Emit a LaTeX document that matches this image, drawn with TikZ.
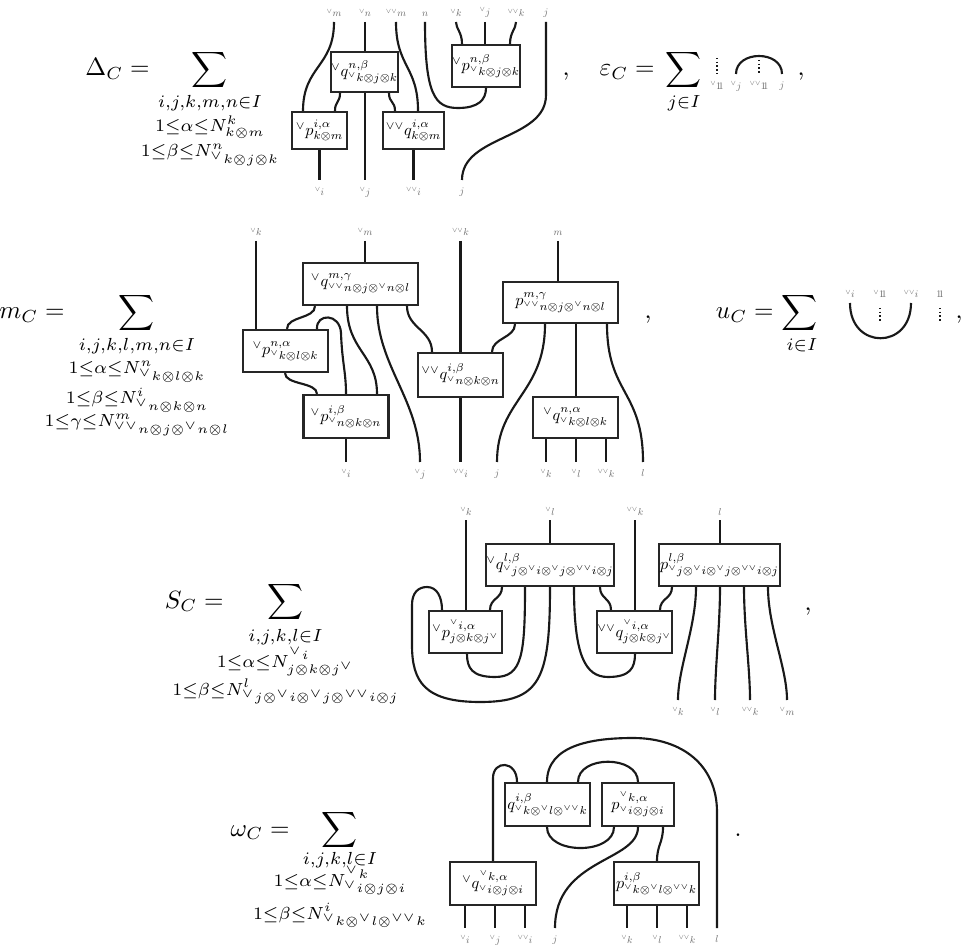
\documentclass[tikz,border=0pt]{standalone}
\usepackage{amsmath,amssymb}
\usepackage{graphicx}
\newcommand{\Vp}{{}^{\vee}}
\newcommand{\VVp}{{}^{\vee\vee}}
\newcommand{\unitone}{\mathrm{1}\mkern-4.5mu\mathrm{1}}
\newcommand{\boxlab}[1]{\scalebox{0.65}{$#1$}}
\newcommand{\strlab}[1]{\scalebox{0.4}{$#1$}}
\newcommand{\limline}[1]{$\scriptstyle #1$}
\tikzset{
  strand/.style={line width=0.85pt, draw=black!90},
  dotstrand/.style={line width=0.9pt, draw=black!90, dash pattern=on 0.6pt off 0.9pt},
  bx/.style 2 args={draw=black!85, line width=0.85pt, fill=white, inner sep=0pt,
      minimum width=#1*0.4pt, minimum height=#2*0.4pt},
  lab/.style={inner sep=0pt, outer sep=0pt, text=black!60},
  eq/.style={inner sep=0pt},
  lim/.style={inner sep=0pt, anchor=base},
  fromlab/.style={shorten <=2pt},
  tolab/.style={shorten >=3.2pt},
}
\begin{document}
\begin{tikzpicture}[x=0.4pt,y=-0.4pt]
\useasboundingbox (0,0) rectangle (967,952);

% ================= Delta_C =================
\node[eq,anchor=base east] (dlhs) at (150,76) {$\Delta_C =$};
\node[eq] (dsum) at (210,70) {$\displaystyle\sum$};
\node[lim] (dl1) at (210,108) {\limline{i,j,k,m,n\in I}};
\node[lim] (dl2) at (210,132) {\limline{1\leq\alpha\leq N^{k}_{k\otimes m}}};
\node[lim] (dl3) at (210,157) {\limline{1\leq\beta\leq N^{n}_{\Vp k\otimes j\otimes k}}};
\node[bx={67}{40}] (dq) at (364.5,72) {\boxlab{\Vp q^{n,\beta}_{\Vp k\otimes j\otimes k}}};
\node[bx={66}{42}] (dpr) at (486,66) {\boxlab{\Vp p^{n,\beta}_{\Vp k\otimes j\otimes k}}};
\node[bx={55}{37}] (dpl) at (319.5,130.5) {\boxlab{\Vp p^{i,\alpha}_{k\otimes m}}};
\node[bx={61}{37}] (dqq) at (413.5,130.5) {\boxlab{\VVp q^{i,\alpha}_{k\otimes m}}};
\node[lab,anchor=south] (dt1) at (334,17) {\strlab{\Vp m}};
\node[lab,anchor=south] (dt2) at (365,17) {\strlab{\Vp n}};
\node[lab,anchor=south] (dt3) at (396,17) {\strlab{\VVp m}};
\node[lab,anchor=south] (dt4) at (425,17) {\strlab{n}};
\node[lab,anchor=south] (dt5) at (456,17) {\strlab{\Vp k}};
\node[lab,anchor=south] (dt6) at (485,17) {\strlab{\Vp j}};
\node[lab,anchor=south] (dt7) at (516,17) {\strlab{\VVp k}};
\node[lab,anchor=south] (dt8) at (546,17) {\strlab{j}};
\node[lab,anchor=north] (db1) at (319.5,188) {\strlab{\Vp i}};
\node[lab,anchor=north] (db2) at (365,188) {\strlab{\Vp j}};
\node[lab,anchor=north] (db3) at (413.5,188) {\strlab{\VVp i}};
\node[lab,anchor=north] (db4) at (462,188) {\strlab{j}};
\draw[strand,fromlab] (dt1.south) .. controls +(0,50) and +(0,-45) .. (303,0 |- dpl.north);
\draw[strand,fromlab] (dt2.south) -- (dt2.south |- dq.north);
\draw[strand,fromlab] (dt3.south) .. controls +(0,50) and +(0,-45) .. (418,0 |- dqq.north);
\draw[strand] (340,0 |- dq.south) .. controls +(0,10) and +(0,-10) .. (335,0 |- dpl.north);
\draw[strand,tolab] (365,0 |- dq.south) -- (db2.north);
\draw[strand] (389,0 |- dq.south) .. controls +(0,10) and +(0,-10) .. (395,0 |- dqq.north);
\draw[strand,tolab] (dpl.south) -- (db1.north);
\draw[strand,tolab] (dqq.south) -- (db3.north);
\draw[strand,fromlab] (dt4.south) .. controls (425,95) and (435,108) .. (458,108) .. controls (478,108) and (486,100) .. (dpr.south);
\draw[strand,fromlab] (dt5.south) .. controls +(0,12) and +(0,-12) .. (462,0 |- dpr.north);
\draw[strand,fromlab] (dt6.south) -- (dt6.south |- dpr.north);
\draw[strand,fromlab] (dt7.south) .. controls +(0,12) and +(0,-12) .. (510,0 |- dpr.north);
\draw[strand,fromlab,tolab] (dt8.south) -- (546,95) .. controls (546,140) and (462,135) .. (db4.north);
\node[eq,anchor=base] (dcomma) at (566,76) {,};

% ================= epsilon_C =================
\node[eq,anchor=base east] (elhs) at (655,76) {$\varepsilon_C =$};
\node[eq] (esum) at (684,70) {$\displaystyle\sum$};
\node[lim] (el0) at (684,108) {\limline{j\in I}};
\node[lab,anchor=north] (el1) at (717,82) {\strlab{\Vp\unitone}};
\node[lab,anchor=north] (el2) at (736,82) {\strlab{\Vp j}};
\node[lab,anchor=north] (el3) at (759,82) {\strlab{\VVp\unitone}};
\node[lab,anchor=north] (el4) at (782,82) {\strlab{j}};
\coordinate (ed1) at (717,58);
\coordinate (ed3) at (759,60);
\draw[dotstrand,tolab] (ed1) -- (el1.north);
\draw[dotstrand,tolab] (ed3) -- (el3.north);
\draw[strand,shorten <=3.2pt,shorten >=3.2pt] (el2.north) .. controls +(0,-32) and +(0,-32) .. (el4.north);
\node[eq,anchor=base] (ecomma) at (801,76) {,};

% ================= m_C =================
\node[eq,anchor=base east] (mlhs) at (65,319) {$m_C =$};
\node[eq] (msum) at (137,313) {$\displaystyle\sum$};
\node[lim] (ml1) at (137,351) {\limline{i,j,k,l,m,n\in I}};
\node[lim] (ml2) at (137,374) {\limline{1\leq\alpha\leq N^{n}_{\Vp k\otimes l\otimes k}}};
\node[lim] (ml3) at (137,404) {\limline{1\leq\beta\leq N^{i}_{\Vp n\otimes k\otimes n}}};
\node[lim] (ml4) at (137,427) {\limline{1\leq\gamma\leq N^{m}_{\VVp n\otimes j\otimes\Vp n\otimes l}}};
\node[bx={115}{42}] (mq) at (360.5,284) {\boxlab{\Vp q^{m,\gamma}_{\VVp n\otimes j\otimes\Vp n\otimes l}}};
\node[bx={85}{42}] (mpl) at (285.5,351) {\boxlab{\Vp p^{n,\alpha}_{\Vp k\otimes l\otimes k}}};
\node[bx={85}{43}] (mpb) at (346,416.5) {\boxlab{\Vp p^{i,\beta}_{\Vp n\otimes k\otimes n}}};
\node[bx={85}{44}] (mqq) at (460.5,375) {\boxlab{\VVp q^{i,\beta}_{\Vp n\otimes k\otimes n}}};
\node[bx={115}{41}] (mpr) at (560.5,302.5) {\boxlab{p^{m,\gamma}_{\VVp n\otimes j\otimes\Vp n\otimes l}}};
\node[bx={85}{41}] (mqb) at (575.5,417.5) {\boxlab{\Vp q^{n,\alpha}_{\Vp k\otimes l\otimes k}}};
\node[lab,anchor=south] (mt1) at (256,236) {\strlab{\Vp k}};
\node[lab,anchor=south] (mt2) at (365,236) {\strlab{\Vp m}};
\node[lab,anchor=south] (mt3) at (460.5,236) {\strlab{\VVp k}};
\node[lab,anchor=south] (mt4) at (558,236) {\strlab{m}};
\node[lab,anchor=north] (mb1) at (346,470) {\strlab{\Vp i}};
\node[lab,anchor=north] (mb2) at (420,470) {\strlab{\Vp j}};
\node[lab,anchor=north] (mb3) at (460.5,470) {\strlab{\VVp i}};
\node[lab,anchor=north] (mb4) at (497,470) {\strlab{j}};
\node[lab,anchor=north] (mb5) at (546,470) {\strlab{\Vp k}};
\node[lab,anchor=north] (mb6) at (576,470) {\strlab{\Vp l}};
\node[lab,anchor=north] (mb7) at (606,470) {\strlab{\VVp k}};
\node[lab,anchor=north] (mb8) at (643,470) {\strlab{l}};
\draw[strand,fromlab] (mt1.south) -- (mt1.south |- mpl.north);
\draw[strand,fromlab] (mt2.south) -- (mt2.south |- mq.north);
\draw[strand,fromlab] (mt3.south) -- (mt3.south |- mqq.north);
\draw[strand,fromlab] (mt4.south) -- (mt4.south |- mpr.north);
\draw[strand] (315,0 |- mq.south) .. controls +(0,13) and +(0,-13) .. (287,0 |- mpl.north);
\draw[strand] (317,0 |- mpl.north) .. controls (316,313) and (340,313) .. (341,333) .. controls (342,362) and (346,372) .. (346,0 |- mpb.north);
\draw[strand] (347,0 |- mq.south) .. controls +(0,45) and +(0,-40) .. (377,0 |- mpb.north);
\draw[strand,tolab] (377,0 |- mq.south) .. controls +(0,60) and +(0,-70) .. (mb2.north);
\draw[strand] (407,0 |- mq.south) .. controls +(0,22) and +(0,-22) .. (432,0 |- mqq.north);
\draw[strand] (285,0 |- mpl.south) .. controls +(0,12) and +(0,-12) .. (317,0 |- mpb.north);
\draw[strand,tolab] (mpb.south) -- (mb1.north);
\draw[strand,tolab] (mqq.south) -- (mb3.north);
\draw[strand] (515,0 |- mpr.south) .. controls +(0,14) and +(0,-14) .. (492,0 |- mqq.north);
\draw[strand,tolab] (545,0 |- mpr.south) .. controls +(0,70) and +(0,-70) .. (mb4.north);
\draw[strand] (576,0 |- mpr.south) -- (576,0 |- mqb.north);
\draw[strand,tolab] (607,0 |- mpr.south) .. controls +(0,70) and +(0,-80) .. (mb8.north);
\draw[strand,tolab] (546,0 |- mqb.south) -- (mb5.north);
\draw[strand,tolab] (576,0 |- mqb.south) -- (mb6.north);
\draw[strand,tolab] (606,0 |- mqb.south) -- (mb7.north);
\node[eq,anchor=base] (mcomma) at (648,319) {,};

% ================= u_C =================
\node[eq,anchor=base east] (ulhs) at (774,319) {$u_C =$};
\node[eq] (usum) at (800,313) {$\displaystyle\sum$};
\node[lim] (ul0) at (802,351) {\limline{i\in I}};
\node[lab,anchor=south] (ul1) at (850,298) {\strlab{\Vp i}};
\node[lab,anchor=south] (ul2) at (880,298) {\strlab{\Vp\unitone}};
\node[lab,anchor=south] (ul3) at (911,298) {\strlab{\VVp i}};
\node[lab,anchor=south] (ul4) at (940,298) {\strlab{\unitone}};
\coordinate (ud2) at (880,322);
\coordinate (ud4) at (940,322);
\draw[strand,shorten <=2pt,shorten >=2pt] (ul1.south) .. controls +(0,52) and +(0,52) .. (ul3.south);
\draw[dotstrand,shorten <=4pt] (ul2.south) -- (ud2);
\draw[dotstrand,shorten <=4pt] (ul4.south) -- (ud4);
\node[eq,anchor=base] (ucomma) at (959,319) {,};

% ================= S_C =================
\node[eq,anchor=base east] (slhs) at (224,608) {$S_C =$};
\node[eq] (ssum) at (285.5,602) {$\displaystyle\sum$};
\node[lim] (sl1) at (285.5,641) {\limline{i,j,k,l\in I}};
\node[lim] (sl2) at (285.5,667) {\limline{1\leq\alpha\leq N^{\Vp i}_{j\otimes k\otimes j^{\vee}}}};
\node[lim] (sl3) at (285.5,695) {\limline{1\leq\beta\leq N^{l}_{\Vp j\otimes\Vp i\otimes\Vp j\otimes\VVp i\otimes j}}};
\node[bx={122}{42}] (sq) at (550,565) {\boxlab{\Vp q^{l,\beta}_{\Vp j\otimes\Vp i\otimes\Vp j\otimes\VVp i\otimes j}}};
\node[bx={73}{42}] (spl) at (465.5,632) {\boxlab{\Vp p^{\Vp i,\alpha}_{j\otimes k\otimes j^{\vee}}}};
\node[bx={73}{42}] (sqq) at (634.5,632) {\boxlab{\VVp q^{\Vp i,\alpha}_{j\otimes k\otimes j^{\vee}}}};
\node[bx={121}{42}] (spr) at (719.5,565) {\boxlab{p^{l,\beta}_{\Vp j\otimes\Vp i\otimes\Vp j\otimes\VVp i\otimes j}}};
\node[lab,anchor=south] (st1) at (466,515) {\strlab{\Vp k}};
\node[lab,anchor=south] (st2) at (550,515) {\strlab{\Vp l}};
\node[lab,anchor=south] (st3) at (635,515) {\strlab{\VVp k}};
\node[lab,anchor=south] (st4) at (720,515) {\strlab{l}};
\node[lab,anchor=north] (sb1) at (678,708) {\strlab{\Vp k}};
\node[lab,anchor=north] (sb2) at (715,708) {\strlab{\Vp l}};
\node[lab,anchor=north] (sb3) at (750,708) {\strlab{\VVp k}};
\node[lab,anchor=north] (sb4) at (787,708) {\strlab{\Vp m}};
\draw[strand,fromlab] (st1.south) -- (st1.south |- spl.north);
\draw[strand,fromlab] (st2.south) -- (st2.south |- sq.north);
\draw[strand,fromlab] (st3.south) -- (st3.south |- sqq.north);
\draw[strand,fromlab] (st4.south) -- (st4.south |- spr.north);
\draw[strand] (502,0 |- sq.south) .. controls +(0,12) and +(0,-12) .. (490,0 |- spl.north);
\draw[strand] (525,0 |- sq.south) .. controls (525,655) and (522,677) .. (495,677) .. controls (472,677) and (467,668) .. (467,0 |- spl.south);
\draw[strand] (550,0 |- sq.south) .. controls (550,680) and (540,702) .. (480,702) .. controls (425,702) and (412,682) .. (412,645) -- (412,605) .. controls (412,593) and (418,587) .. (427,587) .. controls (437,587) and (442,597) .. (442,0 |- spl.north);
\draw[strand] (574,0 |- sq.south) .. controls (574,655) and (585,677) .. (608,677) .. controls (630,677) and (635,668) .. (635,0 |- sqq.south);
\draw[strand] (600,0 |- sq.south) .. controls +(0,12) and +(0,-12) .. (611,0 |- sqq.north);
\draw[strand] (672,0 |- spr.south) .. controls +(0,12) and +(0,-12) .. (660,0 |- sqq.north);
\draw[strand,tolab] (696,0 |- spr.south) .. controls +(0,40) and +(0,-40) .. (sb1.north);
\draw[strand,tolab] (720,0 |- spr.south) .. controls +(0,40) and +(0,-40) .. (sb2.north);
\draw[strand,tolab] (744,0 |- spr.south) .. controls +(0,40) and +(0,-40) .. (sb3.north);
\draw[strand,tolab] (768,0 |- spr.south) .. controls +(0,40) and +(0,-40) .. (sb4.north);
\node[eq,anchor=base] (scomma) at (808,610) {,};

% ================= omega_C =================
\node[eq,anchor=base east] (wlhs) at (290,836) {$\omega_C =$};
\node[eq] (wsum) at (340,830) {$\displaystyle\sum$};
\node[lim] (wl1) at (340,864) {\limline{i,j,k,l\in I}};
\node[lim] (wl2) at (340,886) {\limline{1\leq\alpha\leq N^{\Vp k}_{\Vp i\otimes j\otimes i}}};
\node[lim] (wl3) at (340,919) {\limline{1\leq\beta\leq N^{i}_{\Vp k\otimes\Vp l\otimes\VVp k}}};
\node[bx={85}{43}] (wq) at (547.5,804.5) {\boxlab{q^{i,\beta}_{\Vp k\otimes\Vp l\otimes\VVp k}}};
\node[bx={72}{43}] (wp) at (638,804.5) {\boxlab{p^{\Vp k,\alpha}_{\Vp i\otimes j\otimes i}}};
\node[bx={86}{43}] (wqv) at (493,883.5) {\boxlab{\Vp q^{\Vp k,\alpha}_{\Vp i\otimes j\otimes i}}};
\node[bx={85}{43}] (wpb) at (656.5,883.5) {\boxlab{p^{i,\beta}_{\Vp k\otimes\Vp l\otimes\VVp k}}};
\node[lab,anchor=north] (wb1) at (465,936) {\strlab{\Vp i}};
\node[lab,anchor=north] (wb2) at (495,936) {\strlab{\Vp j}};
\node[lab,anchor=north] (wb3) at (525,936) {\strlab{\VVp i}};
\node[lab,anchor=north] (wb4) at (555,936) {\strlab{j}};
\node[lab,anchor=north] (wb5) at (627,936) {\strlab{\Vp k}};
\node[lab,anchor=north] (wb6) at (657,936) {\strlab{\Vp l}};
\node[lab,anchor=north] (wb7) at (687,936) {\strlab{\VVp k}};
\node[lab,anchor=north] (wb8) at (717,936) {\strlab{l}};
\draw[strand,tolab] (465,0 |- wqv.south) -- (wb1.north);
\draw[strand,tolab] (495,0 |- wqv.south) -- (wb2.north);
\draw[strand,tolab] (525,0 |- wqv.south) -- (wb3.north);
\draw[strand] (493,0 |- wqv.north) -- (493,778) .. controls (493,760) and (517,760) .. (517,0 |- wq.north);
\draw[strand,tolab] (547,0 |- wq.north) .. controls (547,745) and (592,738) .. (633,738) .. controls (682,738) and (717,765) .. (717,812) -- (wb8.north);
\draw[strand] (578,0 |- wq.north) .. controls (578,755) and (638,755) .. (638,0 |- wp.north);
\draw[strand] (547,0 |- wq.south) .. controls (547,855) and (614,855) .. (614,0 |- wp.south);
\draw[strand,tolab] (638,0 |- wp.south) .. controls (638,862) and (555,858) .. (wb4.north);
\draw[strand] (663,0 |- wp.south) .. controls +(0,16) and +(0,-16) .. (657,0 |- wpb.north);
\draw[strand,tolab] (627,0 |- wpb.south) -- (wb5.north);
\draw[strand,tolab] (657,0 |- wpb.south) -- (wb6.north);
\draw[strand,tolab] (687,0 |- wpb.south) -- (wb7.north);
\node[eq,anchor=base] (wdot) at (738,836) {.};
\end{tikzpicture}
\end{document}
